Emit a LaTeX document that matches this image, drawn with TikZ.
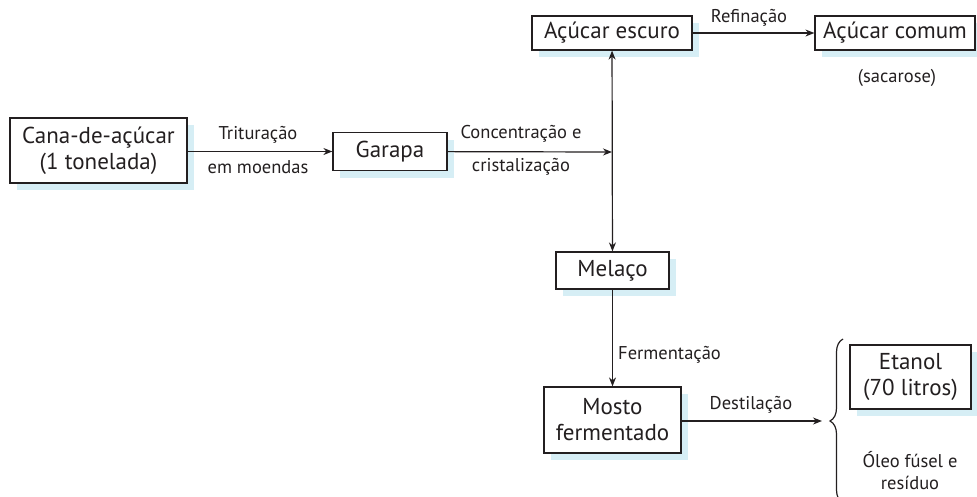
\documentclass[tikz,border=0pt]{standalone}
\usepackage{fontspec}
\setmainfont{PT Sans}
\usetikzlibrary{arrows.meta,shadows,decorations.pathreplacing}
\definecolor{shadowblue}{HTML}{D6EEF5}
\definecolor{ink}{HTML}{231F20}
\tikzset{
  box/.style={draw=ink, line width=1.2pt, fill=white, inner sep=0pt, align=center,
    font=\fontsize{23}{26}\selectfont, text=ink,
    drop shadow={shadow xshift=7pt, shadow yshift=-7pt, fill=shadowblue, opacity=1}},
  lbl/.style={font=\fontsize{18.5}{22}\selectfont, text=ink, inner sep=0pt, align=center},
  conn/.style={draw=ink, line width=1.2pt, -{Stealth[length=9pt,width=7pt]}},
}
\begin{document}
\begin{tikzpicture}[x=1pt,y=-1pt]
\useasboundingbox (0,0) rectangle (977,496);
\clip (0,0) rectangle (977,496);
\node[box, minimum width=177, minimum height=65] (cana) at (98.5,150.5) {Cana-de-açúcar\\(1 tonelada)};
\node[box, minimum width=114, minimum height=38] (garapa) at (390,151.5) {Garapa};
\node[box, minimum width=160, minimum height=34] (escuro) at (612,33) {Açúcar escuro};
\node[box, minimum width=160, minimum height=34] (comum) at (895,33) {Açúcar comum};
\node[box, minimum width=113, minimum height=37] (melaco) at (612.5,270.5) {Melaço};
\node[box, minimum width=137, minimum height=66] (mosto) at (612.5,420) {Mosto\\fermentado};
\node[box, minimum width=121, minimum height=64] (etanol) at (910.5,377) {Etanol\\(70 litros)};
\coordinate (j) at (612,152);
\coordinate (d) at (822,421);

\draw[conn] (cana.east |- garapa) -- (garapa);
\draw[conn] (garapa) -- (j);
\draw[conn, {Stealth[length=9pt,width=7pt]}-{Stealth[length=9pt,width=7pt]}] (escuro) -- (melaco);
\draw[conn] (escuro) -- (comum);
\draw[conn] (melaco) -- (mosto);
\draw[conn] (mosto.east |- d) -- (d);

\node[lbl] (t1) at (258,135) {Trituração};
\node[lbl] (t2) at (258,167) {em moendas};
\node[lbl] (c1) at (521,134) {Concentração e};
\node[lbl] (c2) at (521,167) {cristalização};
\node[lbl] (ref) at (749,18) {Refinação};
\node[lbl] (sac) at (897,78) {(sacarose)};
\node[lbl, anchor=west] (fer) at (618,355) {Fermentação};
\node[lbl] (des) at (751,405) {Destilação};
\node[lbl] (oleo) at (910,471) {Óleo fúsel e\\resíduo};

\draw[draw=ink, line width=1.2pt, decorate, decoration={brace, amplitude=13pt, aspect=0.5}] (843,503) -- (843,339);
\end{tikzpicture}
\end{document}
